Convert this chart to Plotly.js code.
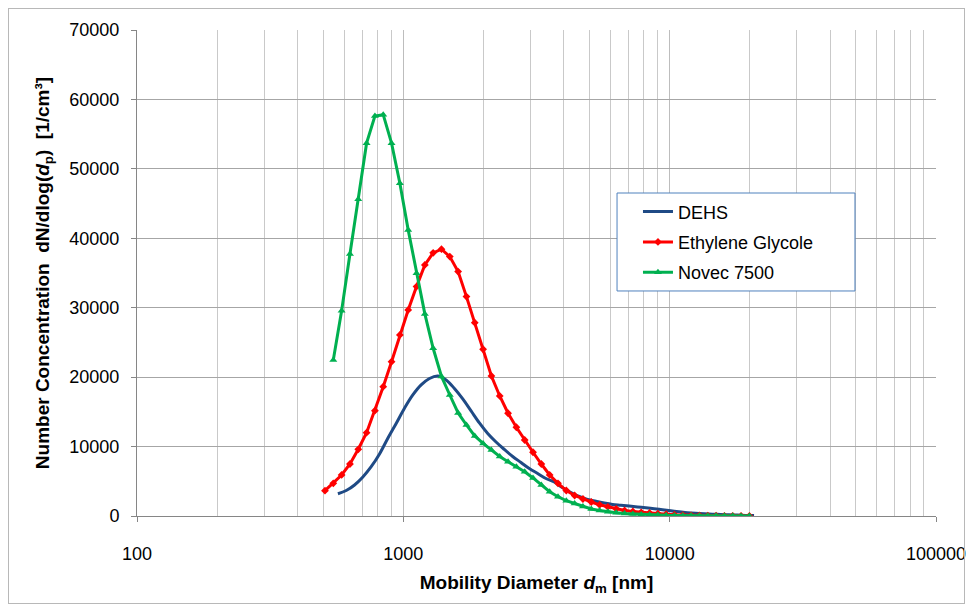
<!DOCTYPE html>
<html>
<head>
<meta charset="utf-8">
<script src="https://cdn.plot.ly/plotly-3.0.1.min.js"></script>
<style>
  html, body { margin: 0; padding: 0; background: #ffffff; }
  #wrap { position: relative; width: 971px; height: 610px; }
  #chart { width: 971px; height: 610px; }
  #frame { position: absolute; left: 8px; top: 8px; width: 955px; height: 594px;
           border: 1px solid #b8b8b8; pointer-events: none; }
</style>
</head>
<body>
<div id="wrap"><div id="chart"></div><div id="frame"></div></div>
<script>
// Diameters (nm) and concentrations
const dehsD = [568, 610.4, 655.9, 704.8, 757.4, 813.9, 874.6, 939.9, 1010.0, 1085.4, 1166.4, 1253.4, 1346.9, 1447.4, 1555.4, 1671.4, 1796.1, 1930.1, 2074.1, 2228.8, 2395.1, 2573.8, 2765.8, 2972.1, 3193.8, 3432.1, 3688.2, 3963.3, 4259.0, 4576.7, 4918.2, 5285.1, 5679.4, 6103.1, 6558.4, 7047.7, 7573.5, 8138.5, 8745.7, 9398.2, 10099, 10853, 11662, 12532, 13467, 14472, 15552, 16712, 17959, 19299, 20739];
const dehsN = [3200, 3670, 4470, 5620, 7100, 8930, 11200, 13330, 15520, 17430, 18880, 19810, 20170, 19600, 18370, 16860, 15130, 13400, 11890, 10660, 9580, 8570, 7710, 6840, 6120, 5400, 4900, 4060, 3390, 2810, 2380, 2120, 1870, 1670, 1560, 1440, 1300, 1180, 1050, 910, 750, 610, 480, 390, 320, 260, 220, 170, 130, 90, 60];

const glycolD = [507.9, 545.8, 586.5, 630.3, 677.3, 727.8, 782.1, 840.4, 903.1, 970.5, 1042.9, 1120.7, 1204.3, 1294.1, 1390.7, 1494.4, 1605.9, 1725.7, 1854.4, 1992.8, 2141.5, 2301.2, 2472.9, 2657.4, 2855.6, 3068.6, 3297.5, 3543.5, 3807.8, 4091.9, 4397.2, 4725.2, 5077.7, 5456.5, 5863.6, 6301.0, 6771.0, 7276.1, 7818.9, 8402.2, 9029.0, 9702.5, 10426, 11204, 12040, 12938, 13903, 14940, 16055, 17252, 18539, 19922];
const glycolN = [3650, 4710, 5910, 7490, 9610, 12000, 15170, 18630, 22230, 26080, 29680, 33040, 36170, 37900, 38430, 37360, 35200, 31600, 27850, 24020, 20170, 17290, 14800, 12780, 10950, 9180, 7490, 5910, 4710, 3670, 2950, 2450, 2020, 1610, 1300, 1040, 790, 650, 530, 430, 350, 260, 190, 140, 100, 75, 55, 40, 30, 22, 16, 12];

const novecD = [545.8, 586.5, 630.3, 677.3, 727.8, 782.1, 840.4, 903.1, 970.5, 1042.9, 1120.7, 1204.3, 1294.1, 1390.7, 1494.4, 1605.9, 1725.7, 1854.4, 1992.8, 2141.5, 2301.2, 2472.9, 2657.4, 2855.6, 3068.6, 3297.5, 3543.5, 3807.8, 4091.9, 4397.2, 4725.2, 5077.7, 5456.5, 5863.6, 6301.0, 6771.0, 7276.1, 7818.9, 8402.2, 9029.0, 9702.5, 10426, 11204, 12040, 12938, 13903, 14940, 16055, 17252, 18539, 19922];
const novecN = [22480, 29580, 37750, 45630, 53700, 57600, 57800, 53700, 47940, 41210, 34970, 29110, 24160, 20100, 17430, 14840, 13110, 11530, 10450, 9510, 8570, 7820, 7100, 6380, 5480, 4470, 3500, 2780, 2200, 1800, 1370, 1010, 790, 600, 460, 360, 290, 220, 170, 130, 100, 80, 65, 55, 45, 38, 32, 27, 22, 18, 15];

const seriesNames = ["DEHS", "Ethylene Glycole", "Novec 7500"];
const xTickVals = [100, 1000, 10000, 100000];
const xTickText = ["100", "1000", "10000", "100000"];

// minor gridline positions 2..9 x each decade
const minorVals = [];
[100, 1000, 10000].forEach(dec => { for (let m = 2; m <= 9; m++) minorVals.push(m * dec); });

const fontFam = "Liberation Sans, Arial, sans-serif";

const traces = [
  { x: dehsD, y: dehsN, name: seriesNames[0], legendgroup: "g1", type: "scatter", mode: "lines",
    line: { color: "#1F4A85", width: 3, shape: "spline" } },
  { x: glycolD, y: glycolN, name: seriesNames[1], legendgroup: "g2", type: "scatter", mode: "lines+markers",
    line: { color: "#FF0000", width: 3 },
    marker: { symbol: "diamond", size: 6, color: "#FF0000" } },
  { x: novecD, y: novecN, name: seriesNames[2], legendgroup: "g3", type: "scatter", mode: "lines+markers",
    line: { color: "#00B050", width: 3 },
    marker: { symbol: "triangle-up", size: 7, color: "#00B050" } }
];

const layout = {
  width: 971, height: 610,
  margin: { l: 137, r: 35, t: 30, b: 94 },
  paper_bgcolor: "#ffffff", plot_bgcolor: "#ffffff",
  font: { family: fontFam, color: "#000000" },
  showlegend: true,
  legend: {
    x: 0.627, y: 0.664, xanchor: "left", yanchor: "top",
    bgcolor: "rgba(0,0,0,0)", borderwidth: 0,
    font: { family: fontFam, size: 18, color: "#000000" },
    tracegroupgap: 4, itemwidth: 30
  },
  shapes: [{
    type: "rect", xref: "paper", yref: "paper",
    x0: 0.6008, x1: 0.8986, y0: 0.463, y1: 0.6646,
    line: { color: "#4F81BD", width: 1 }, fillcolor: "#ffffff", layer: "above"
  }],
  xaxis: {
    type: "log", range: [2, 5],
    tickmode: "array", tickvals: xTickVals, ticktext: xTickText,
    showgrid: true, gridcolor: "#bdbdbd", gridwidth: 1,
    minor: { tickmode: "array", tickvals: minorVals, showgrid: true, gridcolor: "#c9c9c9", gridwidth: 1, ticks: "" },
    showline: true, linecolor: "#868686", linewidth: 1,
    ticks: "outside", ticklen: 5, tickcolor: "#868686",
    ticklabelstandoff: 16,
    tickfont: { family: fontFam, size: 18, color: "#000000" },
    zeroline: false,
    title: { text: "<b>Mobility Diameter <i>d</i><sub>m</sub> [nm]</b>", font: { family: fontFam, size: 19, color: "#000000" }, standoff: 13 }
  },
  yaxis: {
    range: [0, 70000], dtick: 10000,
    showgrid: true, gridcolor: "#a6a6a6", gridwidth: 1,
    showline: true, linecolor: "#868686", linewidth: 1,
    ticks: "outside", ticklen: 5, tickcolor: "#868686",
    ticklabelstandoff: 8,
    tickformat: "d",
    tickfont: { family: fontFam, size: 18, color: "#000000" },
    zeroline: false,
    title: { text: "<b>Number Concentration  dN/dlog(<i>d</i><sub>p</sub>)  [1/cm³]</b>", font: { family: fontFam, size: 19, color: "#000000" }, standoff: 14 }
  }
};

Plotly.newPlot("chart", traces, layout, { staticPlot: true, displayModeBar: false });
</script>
</body>
</html>
